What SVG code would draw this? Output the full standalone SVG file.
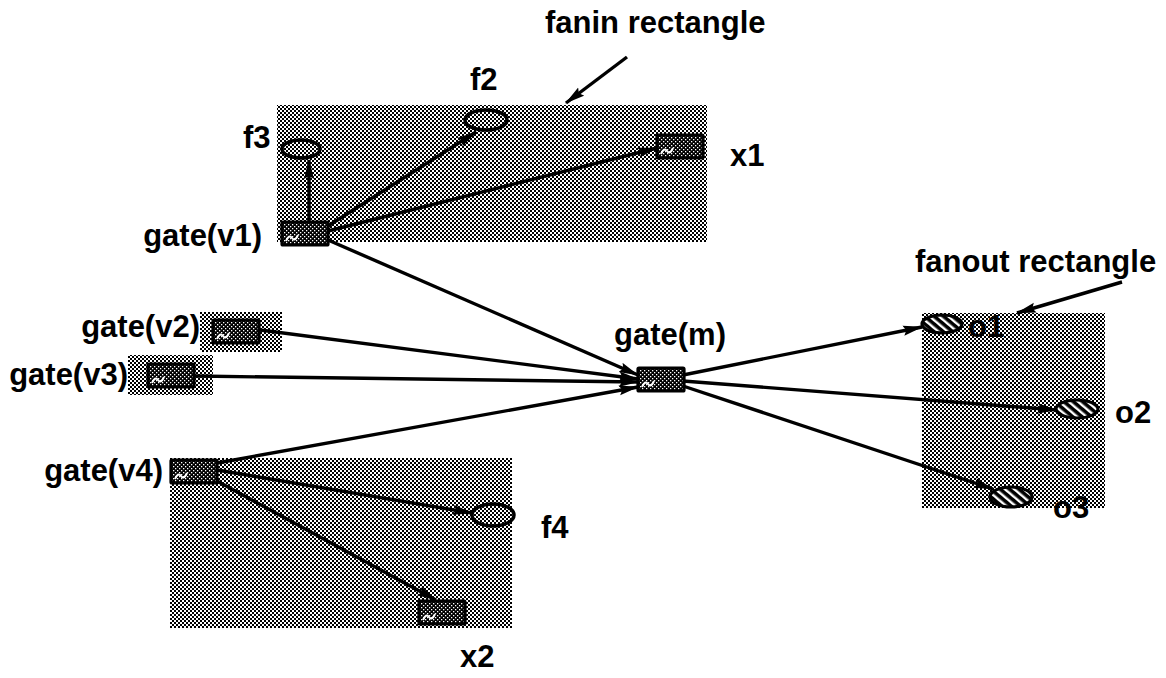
<svg xmlns="http://www.w3.org/2000/svg" xmlns:xlink="http://www.w3.org/1999/xlink" width="1166" height="678" viewBox="0 0 1166 678">
  <defs>
    <!-- halftone grey used for the fanin / fanout regions -->
    <pattern id="shade" width="4" height="4" patternUnits="userSpaceOnUse">
      <rect width="4" height="4" fill="#ffffff"/>
      <rect x="0" y="0" width="2" height="2" fill="#000"/>
      <rect x="2" y="2" width="2" height="2" fill="#000"/>
    </pattern>
    <!-- dense dotted fill for gate boxes -->
    <pattern id="dense" width="4" height="4" patternUnits="userSpaceOnUse">
      <rect width="4" height="4" fill="#000"/>
      <rect x="0" y="0" width="1.3" height="1.3" fill="#fff"/>
      <rect x="2" y="2" width="1.3" height="1.3" fill="#fff"/>
    </pattern>
    <!-- diagonal hatch for output pins -->
    <pattern id="hatch" width="6" height="6" patternUnits="userSpaceOnUse" patternTransform="rotate(-50)">
      <rect width="6" height="6" fill="#000"/>
      <rect x="0" y="0" width="2.4" height="6" fill="#fff"/>
    </pattern>
    <marker id="arrow" viewBox="0 0 20 11" refX="19" refY="5.5" markerWidth="20" markerHeight="11" markerUnits="userSpaceOnUse" orient="auto">
      <path d="M0,0.5 L20,5.5 L0,10.5 L3,5.5 Z" fill="#000"/>
    </marker>
    <!-- gate symbol: 46 x 23 box with a small wave mark -->
    <g id="gate">
      <rect x="0" y="0" width="46" height="23" fill="url(#dense)" stroke="#000" stroke-width="3.2" rx="1"/>
      <path d="M4,19 q3,-7 6,-3 t6,-3" fill="none" stroke="#fff" stroke-width="2"/>
    </g>
  </defs>
  <style>
    .lbl { font-family: "Liberation Sans", Arial, sans-serif; font-weight: bold; font-size: 31px; fill: #000; }
    .region { fill: url(#shade); }
    .wire { stroke: #000; stroke-width: 3.4; fill: none; marker-end: url(#arrow); }
    .pin { fill: url(#shade); stroke: #000; stroke-width: 3.5; }
    .out { fill: url(#hatch); stroke: #000; stroke-width: 3.2; }
  </style>

  <rect width="1166" height="678" fill="#fff"/>

  <!-- shaded regions -->
  <g id="regions">
    <rect id="fanin-rect" class="region" x="277" y="105" width="430" height="137"/>
    <rect id="v2-rect" class="region" x="200" y="312" width="82" height="40"/>
    <rect id="v3-rect" class="region" x="128" y="355" width="85" height="40"/>
    <rect id="v4-rect" class="region" x="170" y="458" width="342" height="170"/>
    <rect id="fanout-rect" class="region" x="922" y="313" width="183" height="195"/>
  </g>

  <!-- connectors -->
  <g id="connectors">
    <line class="wire" x1="309" y1="222" x2="309" y2="160"/>
    <line class="wire" x1="328" y1="226" x2="476" y2="132"/>
    <line class="wire" x1="328" y1="231" x2="657" y2="148"/>
    <line class="wire" x1="328" y1="240" x2="638" y2="375"/>
    <line class="wire" x1="260" y1="330" x2="638" y2="379"/>
    <line class="wire" x1="195" y1="376" x2="638" y2="382"/>
    <line class="wire" x1="217" y1="463" x2="638" y2="387"/>
    <line class="wire" x1="217" y1="470" x2="472" y2="513"/>
    <line class="wire" x1="217" y1="481" x2="436" y2="600"/>
    <line class="wire" x1="683" y1="375" x2="922" y2="327"/>
    <line class="wire" x1="683" y1="381" x2="1057" y2="410"/>
    <line class="wire" x1="683" y1="386" x2="993" y2="489"/>
    <line class="wire" x1="627" y1="57" x2="566" y2="103"/>
    <line class="wire" x1="1122" y1="282" x2="1017" y2="313"/>
  </g>

  <!-- nodes -->
  <g id="node-v1"><use xlink:href="#gate" x="282" y="222"/><text class="lbl" x="262" y="246" text-anchor="end">gate(v1)</text></g>
  <g id="node-v2"><use xlink:href="#gate" x="213" y="320"/><text class="lbl" x="200" y="337" text-anchor="end">gate(v2)</text></g>
  <g id="node-v3"><use xlink:href="#gate" x="148" y="364"/><text class="lbl" x="128" y="385" text-anchor="end">gate(v3)</text></g>
  <g id="node-v4"><use xlink:href="#gate" x="171" y="460"/><text class="lbl" x="163" y="481" text-anchor="end">gate(v4)</text></g>
  <g id="node-m"><use xlink:href="#gate" x="638" y="368"/><text class="lbl" x="614" y="345">gate(m)</text></g>
  <g id="node-x1"><use xlink:href="#gate" x="657" y="135"/><text class="lbl" x="730" y="166">x1</text></g>
  <g id="node-x2"><use xlink:href="#gate" x="419" y="601"/><text class="lbl" x="460" y="667">x2</text></g>

  <g id="node-f2"><ellipse class="pin" cx="486" cy="120" rx="21" ry="10"/><text class="lbl" x="470" y="90">f2</text></g>
  <g id="node-f3"><ellipse class="pin" cx="301" cy="149" rx="19" ry="9"/><text class="lbl" x="243" y="148">f3</text></g>
  <g id="node-f4"><ellipse class="pin" cx="493" cy="515" rx="21" ry="11"/><text class="lbl" x="541" y="538">f4</text></g>

  <g id="node-o1"><ellipse class="out" cx="942" cy="324" rx="20" ry="9"/><text class="lbl" x="968" y="337">o1</text></g>
  <g id="node-o2"><ellipse class="out" cx="1077" cy="409" rx="21" ry="9"/><text class="lbl" x="1115" y="423">o2</text></g>
  <g id="node-o3"><ellipse class="out" cx="1011" cy="497" rx="21" ry="10"/><text class="lbl" x="1053" y="518">o3</text></g>

  <!-- region captions -->
  <g id="caption-fanin"><text class="lbl" x="545" y="33">fanin rectangle</text></g>
  <g id="caption-fanout"><text class="lbl" x="915" y="272">fanout rectangle</text></g>
</svg>
